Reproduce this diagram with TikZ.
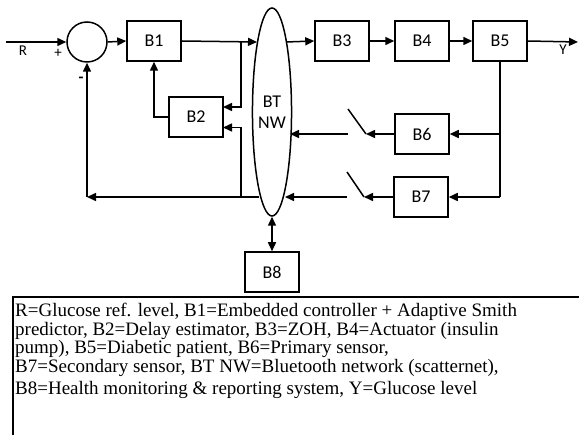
\documentclass[tikz,border=0pt]{standalone}
\usepackage{fontspec}
\setmainfont{Carlito}
\newfontfamily\legendfont{Liberation Serif}
\usetikzlibrary{shapes.geometric,arrows.meta}
\begin{document}
\begin{tikzpicture}[x=1pt,y=-1pt,
  ln/.style={line width=1.5pt},
  arr/.style={ln,-{Triangle[length=9pt,width=8pt]}},
  darr/.style={ln,{Triangle[length=9pt,width=8pt]}-{Triangle[length=9pt,width=8pt]}},
  blk/.style={draw,line width=1.5pt,minimum width=54pt,minimum height=40pt,inner sep=0pt,font=\fontsize{18}{18}\selectfont},
  lbl/.style={inner sep=0pt,font=\fontsize{15}{15}\selectfont}]
\useasboundingbox (0,0) rectangle (579,435);

% nodes
\node[draw,circle,line width=1.5pt,minimum size=40pt,inner sep=0pt] (sum) at (87,42) {};
\node[blk] (b1) at (154,41) {B1};
\node[blk] (b2) at (196,117) {B2};
\node[draw,ellipse,line width=1.5pt,minimum width=38pt,minimum height=208pt,inner sep=0pt,align=center,
      font=\fontsize{18}{21}\selectfont] (bt) at (272,112) {BT\\NW};
\node[blk] (b3) at (342,41) {B3};
\node[blk] (b4) at (422,41) {B4};
\node[blk] (b5) at (500,41) {B5};
\node[blk] (b6) at (422,134) {B6};
\node[blk] (b7) at (421,197) {B7};
\node[blk] (b8) at (272,272) {B8};

% labels
\node[lbl] (lr) at (23,51) {R};
\node[lbl] (lp) at (58,53) {+};
\node[lbl,font=\fontsize{16}{16}\bfseries] (lm) at (81,80) {-};
\node[lbl] (ly) at (563,50) {Y};

% coordinates
\coordinate (in) at (6,42);
\coordinate (out) at (578,42);
\coordinate (btl1) at (257,42);
\coordinate (btr1) at (286,42);
\coordinate (btr2) at (290,134);
\coordinate (btr3) at (285,197);
\coordinate (btl3) at (259,197);
\coordinate (fbc) at (87,197);
\coordinate (j1) at (241,42);
\coordinate (j2) at (241,197);
\coordinate (b2in1) at (223,107);
\coordinate (b2in2) at (223,127.5);
\coordinate (b2l) at (169,117);
\coordinate (b1b) at (154,117);
\coordinate (b5c) at (500,197);
\coordinate (s6b) at (366,134);
\coordinate (s6t) at (348,109);
\coordinate (s6a) at (348,134);
\coordinate (s7b) at (364,197);
\coordinate (s7t) at (347,172);
\coordinate (s7a) at (347,197);

% forward path
\draw[arr] (in) -- (sum.west);
\draw[arr] (sum.east) -- (b1.west);
\draw[arr] (b1.east) -- (btl1);
\draw[arr] (btr1) -- (b3.west);
\draw[arr] (b3.east) -- (b4.west);
\draw[arr] (b4.east) -- (b5.west);
\draw[arr] (b5.east) -- (out);

% B2 loop
\draw[arr] (j1) -- (j1 |- b2in1) -- (b2in1);
\draw[arr] (j2) -- (j2 |- b2in2) -- (b2in2);
\draw[arr] (b2l) -- (b1b) -- (b1.south);

% sensors
\draw[ln] (b5.south) -- (b5c);
\draw[arr] (b5.south |- b6) -- (b6.east);
\draw[arr] (b5c) -- (b7.east);
\draw[arr] (b6.west) -- (s6b);
\draw[ln] (s6b) -- (s6t);
\draw[arr] (s6a) -- (btr2);
\draw[arr] (b7.west) -- (s7b);
\draw[ln] (s7b) -- (s7t);
\draw[arr] (s7a) -- (btr3);

% feedback
\draw[arr] (btl3) -- (fbc);
\draw[arr] (fbc) -- (sum.south);

% B8
\draw[darr] (bt.south) -- (b8.north);

% legend
\draw[line width=1.5pt] (13,436) -- (13,297) -- (580,297);
\node[anchor=north west,inner sep=0pt,align=left,font=\legendfont\fontsize{19}{18.7}\selectfont] (leg) at (15,303)
{R=Glucose ref. level, B1=Embedded controller + Adaptive Smith\\
predictor, B2=Delay estimator, B3=ZOH, B4=Actuator (insulin\\
pump), B5=Diabetic patient, B6=Primary sensor,\\
B7=Secondary sensor, BT NW=Bluetooth network (scatternet),\\[3pt]
B8=Health monitoring \& reporting system, Y=Glucose level};
\end{tikzpicture}
\end{document}
